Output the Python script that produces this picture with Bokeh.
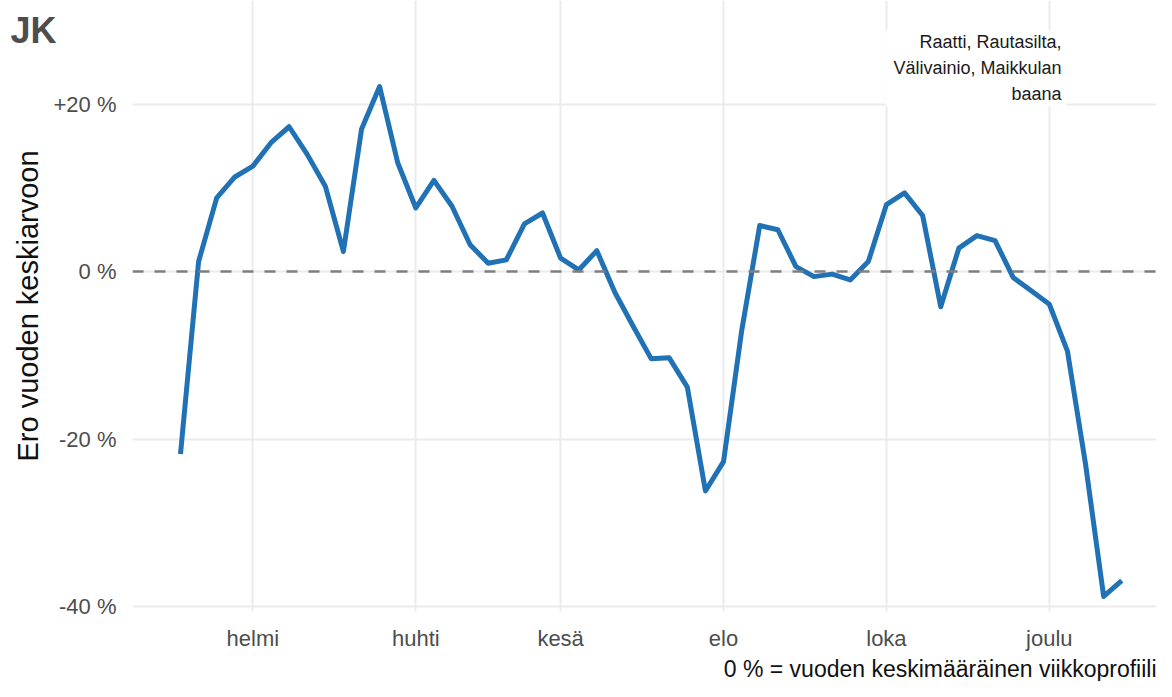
from bokeh.plotting import figure
from bokeh.models import Range1d, FixedTicker, Span, Label, BoxAnnotation, Title, GridBox
from bokeh.embed import file_html
from bokeh.resources import INLINE

weeks = list(range(1, 54))
values = [-21.8, 1.2, 8.8, 11.3, 12.6, 15.4, 17.3, 14.0, 10.2, 2.4,
          17.0, 22.1, 13.0, 7.6, 10.9, 7.8, 3.2, 1.0, 1.4, 5.7,
          7.0, 1.6, 0.2, 2.5, -2.5, -6.5, -10.4, -10.3, -13.8, -26.2,
          -22.7, -7.1, 5.5, 5.0, 0.6, -0.6, -0.3, -1.0, 1.2, 8.0,
          9.4, 6.7, -4.2, 2.8, 4.3, 3.7, -0.7, -2.3, -3.9, -9.5,
          -23.0, -38.8, -36.9]
month_ticks = [5, 14, 22, 31, 40, 49]
month_labels = ["helmi", "huhti", "kesä", "elo", "loka", "joulu"]
y_ticks = [-40, -20, 0, 20]
y_labels = ["-40 %", "-20 %", "0 %", "+20 %"]
legend_lines = ["Raatti, Rautasilta,", "Välivainio, Maikkulan", "baana"]
title_text = "JK"
caption_text = "0 % = vuoden keskimääräinen viikkoprofiili"

FONT = "Liberation Sans"
W, H = 1156, 681

p = figure(width=W, height=H, output_backend="svg", toolbar_location=None,
           x_range=Range1d(-1.652, 54.92), y_range=Range1d(-40.6, 32.38),
           min_border_left=132, min_border_right=0, min_border_top=0,
           min_border_bottom=66)
p.frame_align = False
p.outline_line_color = None
p.background_fill_color = None
p.border_fill_color = None

# axes
p.xaxis.ticker = FixedTicker(ticks=month_ticks)
p.xaxis.major_label_overrides = {t: l for t, l in zip(month_ticks, month_labels)}
p.yaxis.ticker = FixedTicker(ticks=y_ticks)
p.yaxis.major_label_overrides = {t: l for t, l in zip(y_ticks, y_labels)}
for ax in (p.xaxis, p.yaxis):
    ax.axis_line_color = None
    ax.major_tick_line_color = None
    ax.minor_tick_line_color = None
    ax.major_label_text_font = FONT
    ax.major_label_text_font_size = "22px"
    ax.major_label_text_color = "#4d4d4d"
p.xaxis.major_label_standoff = 8
p.yaxis.major_label_standoff = 10
p.yaxis.axis_label = "Ero vuoden keskiarvoon"
p.yaxis.axis_label_text_font = FONT
p.yaxis.axis_label_text_font_size = "29px"
p.yaxis.axis_label_text_font_style = "normal"
p.yaxis.axis_label_text_color = "#111111"
p.yaxis.axis_label_standoff = 7

# grid
p.xgrid.ticker = FixedTicker(ticks=month_ticks)
p.ygrid.ticker = FixedTicker(ticks=y_ticks)
for g in (p.xgrid, p.ygrid):
    g.grid_line_color = "#ebebeb"
    g.grid_line_width = 2

p.add_layout(Span(location=0, dimension="width", line_color="#7f7f7f",
                  line_width=2.5, line_dash="11 11"))

p.line(weeks, values, line_color="#2171b5", line_width=5, line_join="round")

# legend box
p.add_layout(BoxAnnotation(left=39.95, right=49.95, bottom=19.76, top=28.8,
                           fill_color="white", fill_alpha=1.0, line_color=None,
                           level="annotation"))
for i, txt in enumerate(legend_lines):
    p.add_layout(Label(x=49.67, y=27.38 - i * 3.1, text=txt, text_align="right",
                       text_baseline="alphabetic", text_font=FONT,
                       text_font_size="18px", text_color="#1a1a1a"))

cap = Title(text=caption_text, align="right",
            text_font=FONT, text_font_size="23px", text_font_style="normal",
            text_color="#111111", offset=0, standoff=0)
p.add_layout(cap, "below")

# transparent overlay figure, same size, carrying the "JK" heading
p2 = figure(width=W, height=H, output_backend="svg", toolbar_location=None,
            x_range=Range1d(0, W), y_range=Range1d(H, 0),
            x_axis_location=None, y_axis_location=None, min_border=0)
p2.frame_align = False
p2.outline_line_color = None
p2.background_fill_color = None
p2.border_fill_color = None
p2.grid.visible = False
p2.add_layout(Label(x=10, y=30, text=title_text, text_font=FONT,
                    text_font_size="36px", text_font_style="bold",
                    text_color="#4d4d4d", text_baseline="alphabetic"))

layout = GridBox(children=[(p2, 0, 0), (p, 0, 0)])

open("out.html", "w").write(file_html(layout, INLINE))
